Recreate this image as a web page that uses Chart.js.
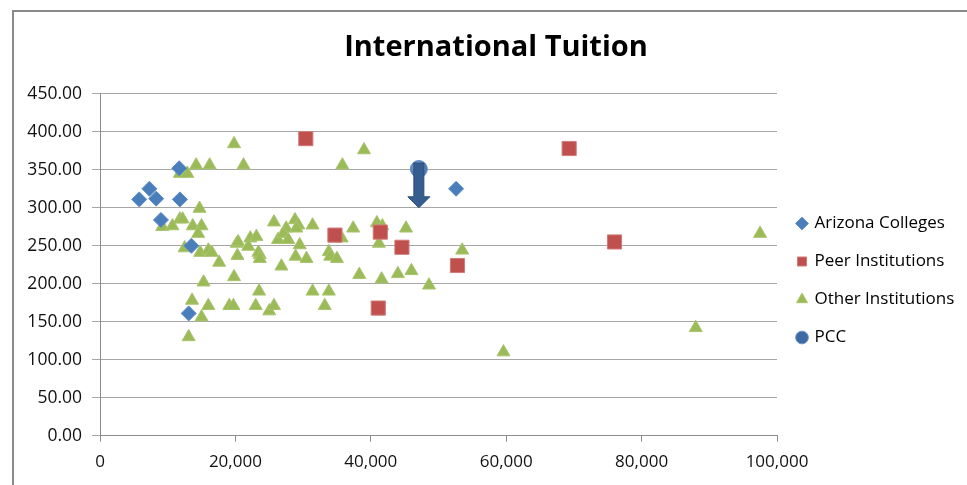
<!DOCTYPE html>
<html>
<head>
<meta charset="utf-8">
<script src="https://cdn.jsdelivr.net/npm/chart.js@4/dist/chart.umd.min.js"></script>
<style>
  html, body { margin: 0; padding: 0; background: #ffffff; }
  #wrap { width: 967px; height: 485px; position: relative; }
</style>
</head>
<body>
<div id="wrap"><canvas id="c" width="967" height="485"></canvas></div>
<script>
// ---- Data (x = tuition-related value, y = cost) ----
const seriesNames = ['Arizona Colleges', 'Peer Institutions', 'Other Institutions', 'PCC'];

const arizonaColleges = [
  [11700, 352], [7300, 325], [5800, 311], [8300, 312], [11800, 311],
  [9000, 284], [13500, 250], [13100, 161], [52600, 325]
];

const peerInstitutions = [
  [30400, 391], [34700, 264], [41400, 268], [44600, 248], [41100, 168],
  [52800, 224], [69300, 378], [76000, 255]
];

const otherInstitutions = [
  [19800, 384], [14200, 356], [16200, 356], [21200, 356], [11800, 345], [12900, 345],
  [39000, 376], [35800, 356], [14700, 299], [11800, 285], [12200, 285], [9200, 275],
  [10700, 276], [13700, 276], [15000, 276], [14500, 266], [12500, 247], [14800, 241],
  [16000, 244], [16500, 241], [17600, 228], [20300, 237], [20200, 253], [19800, 209],
  [15300, 202], [13600, 178], [16000, 171], [19100, 171], [19700, 171], [23000, 171],
  [15000, 156], [13100, 130], [20400, 255], [22200, 260], [23100, 262], [21900, 249],
  [23600, 238], [23400, 241], [23600, 233], [25700, 281], [28800, 284], [29300, 277],
  [27500, 273], [26300, 258], [27100, 266], [27800, 258], [29000, 273], [29500, 251],
  [28900, 236], [30500, 233], [26800, 223], [31400, 277], [37400, 273], [40900, 280],
  [41700, 276], [45200, 273], [35700, 260], [41200, 253], [33800, 242], [34000, 236],
  [35000, 233], [38300, 212], [41600, 206], [44000, 213], [46000, 217], [23500, 190],
  [31400, 190], [33800, 190], [25000, 164], [25700, 171], [33200, 171], [53500, 244],
  [48600, 198], [59600, 110], [88000, 142], [97500, 266]
];

const pcc = [[47100, 351]];
const pccArrowTo = [300];   // arrow annotation points from PCC down to this value

const xTicks = [0, 20000, 40000, 60000, 80000, 100000];
const yTicks = [0, 50, 100, 150, 200, 250, 300, 350, 400, 450];

const toPoints = arr => arr.map(p => ({ x: p[0], y: p[1] }));

const FONT = "'Open Sans', 'Liberation Sans', sans-serif";

// ---- Plugins ----
const framePlugin = {
  id: 'frame',
  beforeDraw(chart) {
    const ctx = chart.ctx;
    ctx.save();
    ctx.fillStyle = '#ffffff';
    ctx.fillRect(0, 0, chart.width, chart.height);
    ctx.fillStyle = '#8a8a8a';
    ctx.fillRect(12, 10, 2, chart.height - 10);
    ctx.fillRect(12, 10, chart.width - 12, 2);
    ctx.restore();
  }
};

const legendLayoutPlugin = {
  id: 'legendLayout',
  afterInit(chart) {
    const lg = chart.legend;
    if (lg && !lg._patched) {
      const f = lg.fit;
      lg.fit = function () { f.call(this); this.width = 190; };
      lg._patched = true;
    }
  },
  afterLayout(chart) {
    const lg = chart.legend;
    if (!lg) return;
    const h = lg.bottom - lg.top;
    const top = (561 - h) / 2;
    lg.top = top; lg.bottom = top + h; lg.y = top;
  }
};

const arrowPlugin = {
  id: 'pccArrow',
  afterDatasetsDraw(chart) {
    const xs = chart.scales.x, ys = chart.scales.y, ctx = chart.ctx;
    pcc.forEach((p, i) => {
      const px = xs.getPixelForValue(p[0]);
      const py = ys.getPixelForValue(p[1]);
      const tip = ys.getPixelForValue(pccArrowTo[i]);
      const shaftW = 10, headW = 22, headH = 11;
      ctx.save();
      ctx.fillStyle = '#355d8e';
      ctx.strokeStyle = '#2b4f7c';
      ctx.lineWidth = 1;
      ctx.beginPath();
      ctx.moveTo(px - shaftW / 2, py - 6);
      ctx.lineTo(px + shaftW / 2, py - 6);
      ctx.lineTo(px + shaftW / 2, tip - headH);
      ctx.lineTo(px + headW / 2, tip - headH);
      ctx.lineTo(px, tip);
      ctx.lineTo(px - headW / 2, tip - headH);
      ctx.lineTo(px - shaftW / 2, tip - headH);
      ctx.closePath();
      ctx.fill();
      ctx.stroke();
      ctx.restore();
    });
  }
};

function pccFill(c) {
  const chart = c.chart;
  const solid = '#4f81bd';
  if (!chart || !chart.scales || !chart.scales.x || !chart.scales.y || !c.raw || c.type !== 'data') return solid;
  const px = chart.scales.x.getPixelForValue(c.raw.x);
  const py = chart.scales.y.getPixelForValue(c.raw.y);
  if (!isFinite(px) || !isFinite(py)) return solid;
  const g = chart.ctx.createRadialGradient(px - 2, py - 4, 0, px, py, 9);
  g.addColorStop(0, '#cfe0f5');
  g.addColorStop(0.45, '#7fa5d8');
  g.addColorStop(1, '#3d6aa3');
  return g;
}

const gridGray = '#a6a6a6';

new Chart(document.getElementById('c'), {
  type: 'scatter',
  data: {
    datasets: [
      {
        label: seriesNames[0], data: toPoints(arizonaColleges),
        pointStyle: 'rectRot', pointRadius: 7.5, pointHoverRadius: 7.5,
        backgroundColor: '#4a7ebb', borderColor: '#5b8cc8', borderWidth: 1
      },
      {
        label: seriesNames[1], data: toPoints(peerInstitutions),
        pointStyle: 'rect', pointRadius: 10, pointHoverRadius: 10,
        backgroundColor: '#c0504d', borderColor: '#d07b78', borderWidth: 1
      },
      {
        label: seriesNames[2], data: toPoints(otherInstitutions),
        pointStyle: 'triangle', pointRadius: 7.5, pointHoverRadius: 7.5,
        backgroundColor: '#9bbb59', borderColor: '#a9c46e', borderWidth: 1
      },
      {
        label: seriesNames[3], data: toPoints(pcc),
        pointStyle: 'circle', pointRadius: 8.5, pointHoverRadius: 8.5,
        backgroundColor: pccFill, borderColor: '#6b94c9', borderWidth: 1
      }
    ]
  },
  options: {
    responsive: false,
    animation: false,
    events: [],
    layout: { padding: { left: 25, right: 0, top: 0, bottom: 0 } },
    scales: {
      x: {
        type: 'linear', min: 0, max: 100000,
        afterBuildTicks: s => { s.ticks = xTicks.map(v => ({ value: v })); },
        afterFit: s => { s.height = 49.3; },
        border: { display: true, color: '#8c8c8c', width: 1 },
        grid: { display: true, drawOnChartArea: false, drawTicks: true, tickLength: 6, color: '#8c8c8c' },
        ticks: {
          padding: 10, color: '#111',
          font: { family: FONT, size: 17 },
          callback: v => Number(v).toLocaleString('en-US'),
          maxRotation: 0
        }
      },
      y: {
        type: 'linear', min: 0, max: 450,
        afterBuildTicks: s => { s.ticks = yTicks.map(v => ({ value: v })); },
        afterFit: s => { s.width = 75; },
        border: { display: true, color: '#8c8c8c', width: 1 },
        grid: { display: true, drawOnChartArea: true, drawTicks: true, tickLength: 8, color: gridGray, lineWidth: 1 },
        ticks: {
          padding: 10, color: '#111',
          font: { family: FONT, size: 17.5 },
          callback: v => Number(v).toFixed(2)
        }
      }
    },
    plugins: {
      title: {
        display: true, text: 'International Tuition', color: '#000',
        font: { family: FONT, size: 29, weight: 'bold' },
        padding: { top: 30, bottom: 29 }
      },
      legend: {
        display: true, position: 'right', fullSize: false,
        labels: {
          usePointStyle: true, boxWidth: 8, boxHeight: 9, padding: 21,
          color: '#000', font: { family: FONT, size: 17 }
        }
      },
      tooltip: { enabled: false }
    }
  },
  plugins: [framePlugin, legendLayoutPlugin, arrowPlugin]
});
</script>
</body>
</html>
